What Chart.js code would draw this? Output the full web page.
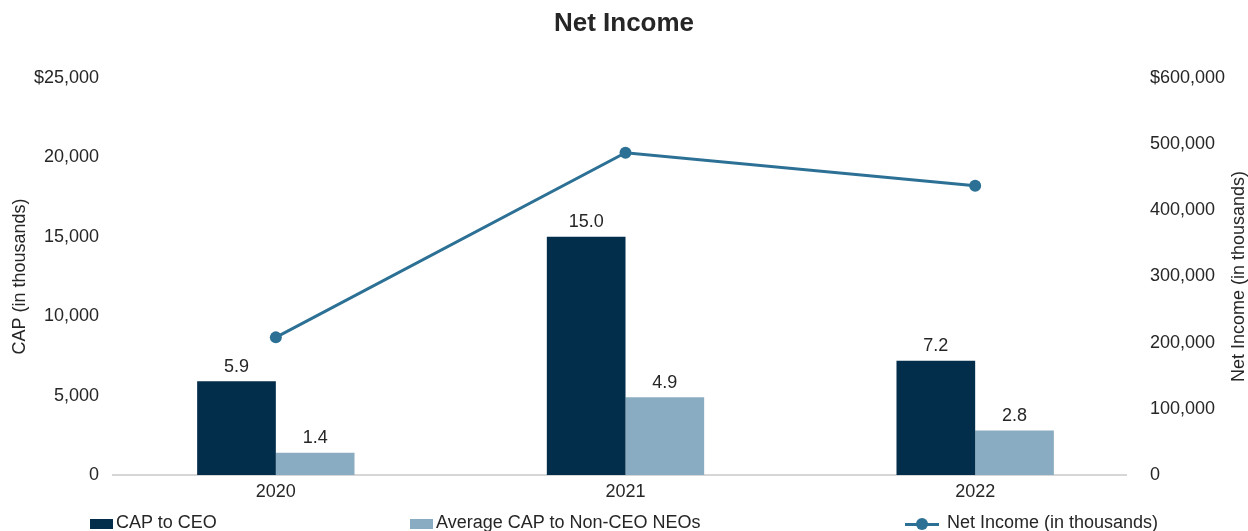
<!DOCTYPE html>
<html>
<head>
<meta charset="utf-8">
<script src="https://cdn.jsdelivr.net/npm/chart.js@4.4.1/dist/chart.umd.min.js"></script>
<style>
  html, body { margin: 0; padding: 0; background: #ffffff; }
  #wrap { position: relative; width: 1248px; height: 531px; overflow: hidden; }
  #c { position: absolute; left: 0; top: 0; }
  .lg { position: absolute; font-family: "Liberation Sans", Arial, Helvetica, sans-serif; font-size: 18px; line-height: 18px; color: #262626; white-space: nowrap; }
  .box { position: absolute; width: 23px; height: 10px; }
  .ln { position: absolute; width: 34px; height: 3px; }
  .dot { position: absolute; width: 12px; height: 12px; border-radius: 50%; }
</style>
</head>
<body>
<div id="wrap">
  <canvas id="c" width="1248" height="531"></canvas>
  <div id="legend"></div>
</div>
<script>
// ---- data ----
const categories = ['2020', '2021', '2022'];
const capToCeo = [5900, 15000, 7200];          // CAP to CEO (in thousands)
const avgCapNonCeo = [1400, 4900, 2800];       // Average CAP to Non-CEO NEOs (in thousands)
const netIncome = [208000, 487000, 437000];    // Net Income (in thousands)
const seriesNames = ['CAP to CEO', 'Average CAP to Non-CEO NEOs', 'Net Income (in thousands)'];
const chartTitle = 'Net Income';
const leftAxisTitle = 'CAP (in thousands)';
const rightAxisTitle = 'Net Income (in thousands)';

// ---- style ----
const FONT = '"Liberation Sans", Arial, Helvetica, sans-serif';
const TEXT = '#262626';
const C_CEO = '#022d4b';
const C_NEO = '#8aacc2';
const C_LINE = '#2c7195';

function fmtLeft(v) { const s = Number(v).toLocaleString('en-US'); return v === 25000 ? '$' + s : s; }
function fmtRight(v) { const s = Number(v).toLocaleString('en-US'); return v === 600000 ? '$' + s : s; }

const barLabels = {
  id: 'barLabels',
  afterDatasetsDraw(chart) {
    const ctx = chart.ctx;
    ctx.save();
    ctx.font = '18px ' + FONT;
    ctx.fillStyle = TEXT;
    ctx.textAlign = 'center';
    ctx.textBaseline = 'alphabetic';
    chart.data.datasets.forEach((ds, i) => {
      if (ds.type !== 'bar') return;
      const meta = chart.getDatasetMeta(i);
      meta.data.forEach((el, j) => {
        ctx.fillText((ds.data[j] / 1000).toFixed(1), el.x, el.y - 9.5);
      });
    });
    ctx.restore();
  }
};

const baseLine = {
  id: 'baseLine',
  beforeDatasetsDraw(chart) {
    const ctx = chart.ctx;
    const a = chart.chartArea;
    const y0 = chart.scales.y.getPixelForValue(0);
    ctx.save();
    ctx.strokeStyle = '#c8c8c8';
    ctx.lineWidth = 1.5;
    ctx.beginPath();
    ctx.moveTo(a.left + 11, y0);
    ctx.lineTo(a.right - 23, y0);
    ctx.stroke();
    ctx.restore();
  }
};

const rightTitle = {
  id: 'rightTitle',
  afterDraw(chart) {
    const ctx = chart.ctx;
    const a = chart.chartArea;
    ctx.save();
    ctx.font = '18px ' + FONT;
    ctx.fillStyle = TEXT;
    ctx.textAlign = 'center';
    ctx.textBaseline = 'middle';
    ctx.translate(1239, (a.top + a.bottom) / 2);
    ctx.rotate(-Math.PI / 2);
    ctx.fillText(rightAxisTitle, 0, 0);
    ctx.restore();
  }
};

const chart = new Chart(document.getElementById('c'), {
  data: {
    labels: categories,
    datasets: [
      { type: 'bar', label: seriesNames[0], data: capToCeo, backgroundColor: C_CEO, yAxisID: 'y', order: 2,
        categoryPercentage: 0.45, barPercentage: 1.0 },
      { type: 'bar', label: seriesNames[1], data: avgCapNonCeo, backgroundColor: C_NEO, yAxisID: 'y', order: 2,
        categoryPercentage: 0.45, barPercentage: 1.0 },
      { type: 'line', label: seriesNames[2], data: netIncome, borderColor: C_LINE, backgroundColor: C_LINE,
        borderWidth: 3, pointRadius: 6, pointHoverRadius: 6, pointBackgroundColor: C_LINE, pointBorderWidth: 0,
        tension: 0, yAxisID: 'y1', order: 0 }
    ]
  },
  options: {
    responsive: false,
    animation: false,
    devicePixelRatio: 1,
    layout: { padding: 0 },
    plugins: {
      legend: { display: false },
      tooltip: { enabled: false },
      title: { display: true, text: chartTitle, color: TEXT,
        font: { family: FONT, size: 26, weight: 'bold', lineHeight: 1.2 },
        padding: { top: 8, bottom: 38.8 } }
    },
    scales: {
      x: {
        grid: { display: false, drawTicks: false },
        border: { display: false },
        ticks: { color: TEXT, font: { family: FONT, size: 18 }, padding: 6 },
        afterFit(s) { s.height = 56; }
      },
      y: {
        position: 'left', min: 0, max: 25000,
        grid: { display: false, drawTicks: false },
        border: { display: false },
        ticks: { stepSize: 5000, color: TEXT, font: { family: FONT, size: 18 }, padding: 2, callback: fmtLeft },
        title: { display: true, text: leftAxisTitle, color: TEXT, font: { family: FONT, size: 18 }, padding: { top: 9, bottom: 0 } },
        afterFit(s) { s.width = 101; }
      },
      y1: {
        position: 'right', min: 0, max: 600000,
        grid: { display: false, drawTicks: false },
        border: { display: false },
        ticks: { stepSize: 100000, color: TEXT, font: { family: FONT, size: 18 }, padding: 0, callback: fmtRight },
        afterFit(s) { s.width = 98; }
      }
    }
  },
  plugins: [baseLine, barLabels, rightTitle]
});

// ---- HTML legend built from datasets ----
(function buildLegend() {
  const lg = document.getElementById('legend');
  const starts = [90, 410, 905];
  chart.data.datasets.forEach((ds, i) => {
    const x = starts[i];
    if (ds.type === 'bar') {
      const b = document.createElement('div');
      b.className = 'box';
      b.style.left = x + 'px'; b.style.top = '519px'; b.style.background = ds.backgroundColor;
      lg.appendChild(b);
      const t = document.createElement('div');
      t.className = 'lg'; t.textContent = ds.label;
      t.style.left = (x + 26) + 'px'; t.style.top = '513px';
      lg.appendChild(t);
    } else {
      const l = document.createElement('div');
      l.className = 'ln'; l.style.left = x + 'px'; l.style.top = '522.5px'; l.style.background = ds.borderColor;
      lg.appendChild(l);
      const d = document.createElement('div');
      d.className = 'dot'; d.style.left = (x + 11) + 'px'; d.style.top = '518px'; d.style.background = ds.borderColor;
      lg.appendChild(d);
      const t = document.createElement('div');
      t.className = 'lg'; t.textContent = ds.label;
      t.style.left = (x + 42) + 'px'; t.style.top = '513px';
      lg.appendChild(t);
    }
  });
})();
</script>
</body>
</html>
